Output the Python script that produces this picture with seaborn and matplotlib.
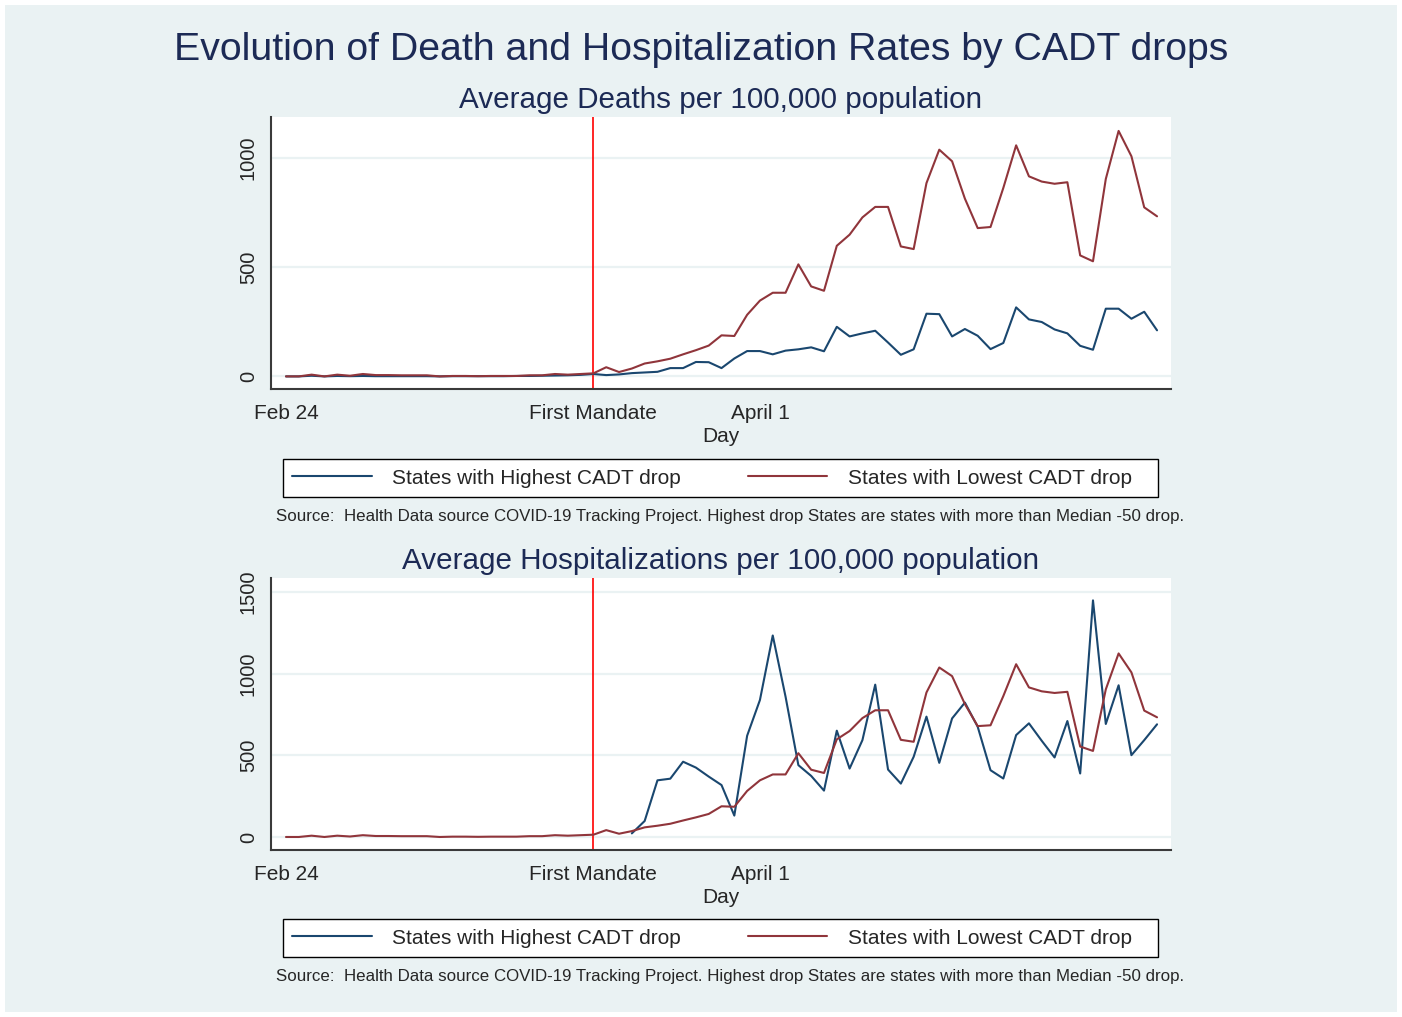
"""Evolution of death and hospitalization rates by CADT drop group.

Two stacked line panels (deaths, hospitalizations per 100,000) comparing
states with the highest and lowest CADT drop, with the first mandate marked.
"""

import matplotlib

matplotlib.use("Agg")
import matplotlib.pyplot as plt
import numpy as np
import pandas as pd
import seaborn as sns
from matplotlib.lines import Line2D
from matplotlib.patches import Rectangle


# day index counted from Feb 24
DAYS = list(range(69))
TICK_DAYS = [0, 24, 37]
TICK_LABELS = ["Feb 24", "First Mandate", "April 1"]
MANDATE_DAY = 24

DEATHS_HIGH = [
    0, 0, 3, 0, 2, 1, 2, 1, 1, 1, 1, 1, 0, 1, 1, 1, 1, 1, 2, 2, 3, 4, 5, 7,
    11, 6, 9, 15, 18, 21, 38, 38,
    66, 65, 38, 82, 116, 116, 101, 118, 124, 133,
    115, 227, 183, 197, 209, 155, 99, 124, 287, 285,
    183, 217, 186, 125, 153, 316, 261, 249, 215, 197,
    140, 122, 310, 310, 264, 296, 211,
]
DEATHS_LOW = [
    0, 0, 8, 0, 8, 3, 11, 6, 6, 5, 5, 5, 0, 2, 2, 1, 2, 2, 2, 5, 5, 11, 8, 11,
    14, 42, 20, 36, 59, 69, 81, 101,
    120, 141, 188, 185, 282, 347, 383, 383, 513, 412,
    392, 598, 649, 728, 776, 776, 595, 583, 885, 1038,
    985, 814, 679, 684, 863, 1058, 916, 892, 882, 889,
    554, 527, 904, 1124, 1008, 774, 733,
]
HOSP_HIGH = [np.nan] * 27 + [
    22, 98, 347, 357, 461,
    425, 370, 318, 131, 620, 839, 1234, 859, 440, 374,
    284, 651, 419, 593, 933, 413, 327, 491, 737, 454,
    726, 823, 675, 409, 358, 624, 696, 589, 487, 710,
    389, 1449, 692, 929, 501, 593, 690,
]
# the source figure draws the same lowest-drop series in both panels
HOSP_LOW = [
    0, 0, 8, 0, 8, 3, 11, 6, 6, 5, 5, 5, 0, 2, 2, 1, 2, 2, 2, 5, 5, 11, 8, 11,
    14, 42, 20, 36, 59, 69, 81, 101,
    120, 141, 188, 185, 282, 347, 383, 383, 513, 412,
    392, 598, 649, 728, 776, 776, 595, 583, 885, 1038,
    985, 814, 679, 684, 863, 1058, 916, 892, 882, 889,
    554, 527, 904, 1124, 1008, 774, 733,
]

GROUP_ORDER = ["States with Highest CADT drop", "States with Lowest CADT drop"]
PALETTE = {GROUP_ORDER[0]: "#1A476F", GROUP_ORDER[1]: "#90353B"}
BG = "#EAF2F3"
TITLE_COLOR = "#1C2A55"
TITLE = "Evolution of Death and Hospitalization Rates by CADT drops"
SOURCE = ("Source:  Health Data source COVID-19 Tracking Project. Highest drop States "
          "are states with more than Median -50 drop.")

W, H = 1402, 1017


def fx(px):
    return px / W


def fy(px):
    return 1 - px / H


def draw_panel(fig, top, bottom, high, low, subtitle, ylim, yticks, legend_y, source_y):
    ax = fig.add_axes([fx(271), fy(bottom), fx(1171) - fx(271), fy(top) - fy(bottom)])
    data = pd.DataFrame({
        "Day": DAYS * 2,
        "Value": high + low,
        "Group": [GROUP_ORDER[0]] * len(high) + [GROUP_ORDER[1]] * len(low),
    })
    sns.lineplot(data=data, x="Day", y="Value", hue="Group", hue_order=GROUP_ORDER,
                 palette=PALETTE, linewidth=1.5, estimator=None, legend=False, ax=ax)
    ax.axvline(MANDATE_DAY, color="red", linewidth=1.2, zorder=1)

    ax.set_facecolor("white")
    ax.set_xlim(-1.17, 69.09)
    ax.set_ylim(*ylim)
    ax.set_xticks(TICK_DAYS, TICK_LABELS)
    ax.set_yticks(yticks)
    ax.yaxis.grid(True, color=BG, linewidth=1.6)
    ax.set_axisbelow(True)
    for side in ["top", "right"]:
        ax.spines[side].set_visible(False)
    for side in ["left", "bottom"]:
        ax.spines[side].set_color("#3a3a3a")
        ax.spines[side].set_linewidth(1.5)
    ax.tick_params(axis="x", length=5.5, width=1, color="#3a3a3a", labelsize=15, pad=5)
    ax.tick_params(axis="y", length=5.5, width=1, color="#3a3a3a", labelsize=14.5, pad=4,
                   labelrotation=90)
    for label in ax.get_yticklabels():
        label.set_va("center")
    ax.set_xlabel("Day", fontsize=15, labelpad=3.3)
    ax.set_ylabel("")

    fig.text(fx(721), fy(top - 17), subtitle, ha="center", va="center",
             fontsize=21.3, color=TITLE_COLOR)

    # Stata gives both legend columns the same width, so the box runs past the
    # second label; trailing spaces reproduce that extra room
    handles = [Line2D([], [], color=PALETTE[g], linewidth=1.5) for g in GROUP_ORDER]
    labels = [GROUP_ORDER[0], GROUP_ORDER[1] + "   "]
    leg = ax.legend(handles, labels, loc="center left",
                    bbox_to_anchor=(fx(283), fy(legend_y + 19)),
                    bbox_transform=fig.transFigure, ncol=2, columnspacing=3.2,
                    fontsize=15, handlelength=3.8, handletextpad=1.0, borderpad=0.45,
                    borderaxespad=0, frameon=True, fancybox=False, framealpha=1)
    leg.get_frame().set_edgecolor("black")
    leg.get_frame().set_linewidth(1.0)

    fig.text(fx(276), fy(source_y), SOURCE, ha="left", va="center", fontsize=12.15)
    return ax


def create_figure():
    sns.set_theme(style="white")
    plt.rcParams["font.family"] = ["Liberation Sans", "DejaVu Sans"]
    fig = plt.figure(figsize=(W / 100, H / 100), dpi=100)
    fig.patch.set_facecolor("white")
    fig.patches.append(Rectangle((fx(5), fy(1012)), fx(1392), 1 - 10 / H,
                                 transform=fig.transFigure, facecolor=BG,
                                 edgecolor="none", zorder=-10))

    fig.text(0.5, fy(50), TITLE, ha="center", va="center", fontsize=28.3, color=TITLE_COLOR)

    draw_panel(fig, 117, 389, DEATHS_HIGH, DEATHS_LOW,
               "Average Deaths per 100,000 population",
               (-57.7, 1187.7), [0, 500, 1000], 459, 516)
    draw_panel(fig, 578, 850, HOSP_HIGH, HOSP_LOW,
               "Average Hospitalizations per 100,000 population",
               (-79.7, 1586), [0, 500, 1000, 1500], 919, 977)
    return fig


def main():
    fig = create_figure()
    fig.savefig("out.png", dpi=100, facecolor=fig.get_facecolor())
    plt.close(fig)


if __name__ == "__main__":
    main()
